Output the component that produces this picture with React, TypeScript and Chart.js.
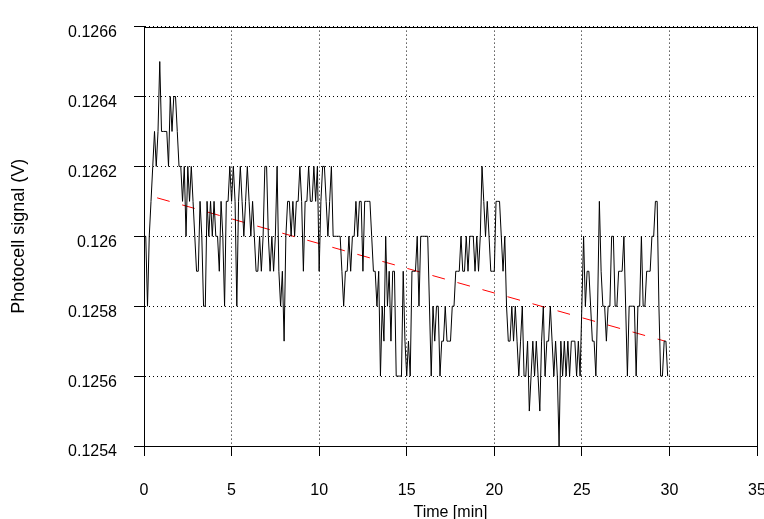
import { useEffect, useRef } from "react"
import { Chart, registerables } from "chart.js"

Chart.register(...registerables)

// readings taken every 0.1 min, values in volts
const sampleInterval = 0.1

const signal = [
  0.1260, 0.1260, 0.1258, 0.1260, 0.1261, 0.1262, 0.1263, 0.1262, 0.1263, 0.1265,
  0.1263, 0.1263, 0.1263, 0.1263, 0.1262, 0.1264, 0.1263, 0.1264, 0.1264, 0.1263,
  0.1262, 0.1262, 0.1261, 0.1262, 0.1260, 0.1262, 0.1261, 0.1262, 0.1261, 0.1260,
  0.1259, 0.1259, 0.1261, 0.1260, 0.1258, 0.1258, 0.1261, 0.1260, 0.1261, 0.1260,
  0.1261, 0.1260, 0.1260, 0.1259, 0.1261, 0.1260, 0.1258, 0.1261, 0.1261, 0.1262,
  0.1261, 0.1262, 0.1261, 0.1258, 0.1261, 0.1262, 0.1261, 0.1260, 0.1261, 0.1262,
  0.1261, 0.1260, 0.1261, 0.1260, 0.1259, 0.1259, 0.1260, 0.1259, 0.1260, 0.1262,
  0.1262, 0.1260, 0.1259, 0.1260, 0.1259, 0.1260, 0.1262, 0.1259, 0.1258, 0.1259,
  0.1257, 0.1260, 0.1261, 0.1261, 0.1260, 0.1261, 0.1260, 0.1261, 0.1261, 0.1262,
  0.1261, 0.1259, 0.1261, 0.1261, 0.1262, 0.1261, 0.1261, 0.1262, 0.1261, 0.1262,
  0.1259, 0.1261, 0.1262, 0.1262, 0.1261, 0.1260, 0.1261, 0.1262, 0.1260, 0.1260,
  0.1260, 0.1260, 0.1260, 0.1259, 0.1258, 0.1259, 0.1259, 0.1260, 0.1259, 0.1260,
  0.1260, 0.1261, 0.1260, 0.1261, 0.1261, 0.1259, 0.1261, 0.1261, 0.1261, 0.1261,
  0.1260, 0.1259, 0.1259, 0.1258, 0.1259, 0.1256, 0.1258, 0.1257, 0.1260, 0.1258,
  0.1259, 0.1257, 0.1259, 0.1259, 0.1256, 0.1256, 0.1256, 0.1256, 0.1259, 0.1257,
  0.1256, 0.1257, 0.1256, 0.1259, 0.1259, 0.1259, 0.1260, 0.1258, 0.1260, 0.1260,
  0.1260, 0.1260, 0.1260, 0.1258, 0.1256, 0.1258, 0.1257, 0.1258, 0.1258, 0.1256,
  0.1257, 0.1257, 0.1258, 0.1257, 0.1257, 0.1257, 0.1258, 0.1258, 0.1259, 0.1259,
  0.1259, 0.1260, 0.1259, 0.1259, 0.1260, 0.1259, 0.1260, 0.1260, 0.1260, 0.1259,
  0.1260, 0.1259, 0.1260, 0.1262, 0.1261, 0.1260, 0.1261, 0.1260, 0.1259, 0.1259,
  0.1259, 0.1261, 0.1261, 0.1261, 0.1260, 0.1259, 0.1260, 0.1258, 0.1257, 0.1257,
  0.1258, 0.1257, 0.1258, 0.1257, 0.1256, 0.1257, 0.1258, 0.1256, 0.1256, 0.1257,
  0.1255, 0.1256, 0.1257, 0.1256, 0.1257, 0.1256, 0.1255, 0.1257, 0.1258, 0.1256,
  0.1257, 0.1257, 0.1258, 0.1257, 0.1256, 0.1257, 0.1256, 0.1254, 0.1257, 0.1256,
  0.1257, 0.1256, 0.1257, 0.1256, 0.1257, 0.1257, 0.1257, 0.1256, 0.1257, 0.1256,
  0.1258, 0.1260, 0.1258, 0.1259, 0.1259, 0.1258, 0.1257, 0.1257, 0.1256, 0.1258,
  0.1261, 0.1259, 0.1258, 0.1258, 0.1257, 0.1258, 0.1258, 0.1260, 0.1260, 0.1258,
  0.1258, 0.1259, 0.1259, 0.1259, 0.1260, 0.1258, 0.1256, 0.1258, 0.1258, 0.1258,
  0.1258, 0.1256, 0.1258, 0.1258, 0.1260, 0.1258, 0.1258, 0.1259, 0.1259, 0.1259,
  0.1260, 0.1260, 0.1261, 0.1261, 0.1258, 0.1256, 0.1256, 0.1257, 0.1257, 0.1256,
]

// linear fit, drawn dashed red
const trendTime = [0.75, 29.75]
const trendSignal = [0.12611, 0.1257]

const xTicks = [0, 5, 10, 15, 20, 25, 30, 35]
const yTicks = [0.1254, 0.1256, 0.1258, 0.126, 0.1262, 0.1264, 0.1266]

const framePlugin = {
  id: "frame",
  afterDraw(chart: Chart) {
    const { ctx, chartArea } = chart
    ctx.save()
    ctx.strokeStyle = "#000"
    ctx.lineWidth = 1
    ctx.strokeRect(
      Math.round(chartArea.left) + 0.5,
      Math.round(chartArea.top) + 0.5,
      Math.round(chartArea.right - chartArea.left),
      Math.round(chartArea.bottom - chartArea.top)
    )
    ctx.restore()
  },
}

export default function App() {
  const canvasRef = useRef<HTMLCanvasElement>(null)

  useEffect(() => {
    if (!canvasRef.current) return
    Chart.defaults.font.family = "'Liberation Sans', Arial, sans-serif"

    const chart = new Chart(canvasRef.current, {
      type: "line",
      data: {
        datasets: [
          {
            label: "Signal",
            data: signal.map((v, i) => ({ x: i * sampleInterval, y: v })),
            borderColor: "#000",
            borderWidth: 1,
            pointRadius: 0,
            tension: 0,
          },
          {
            label: "Trend",
            data: trendTime.map((t, i) => ({ x: t, y: trendSignal[i] })),
            borderColor: "#ff0000",
            borderWidth: 1,
            borderDash: [13, 13],
            pointRadius: 0,
          },
        ],
      },
      options: {
        responsive: false,
        animation: false,
        layout: { padding: { top: 12, right: 7, left: 0, bottom: 0 } },
        plugins: {
          legend: { display: false },
          tooltip: { enabled: false },
        },
        scales: {
          x: {
            type: "linear",
            min: 0,
            max: 35,
            afterBuildTicks: (scale: any) => {
              scale.ticks = xTicks.map((v) => ({ value: v }))
            },
            afterFit: (scale: any) => {
              scale.height = 73
              scale.paddingLeft = 0
              scale.paddingRight = 0
            },
            ticks: {
              color: "#000",
              font: { size: 16 },
              padding: 25,
              maxRotation: 0,
              autoSkip: false,
            },
            grid: {
              color: "#000",
              tickColor: "#000",
              tickLength: 10,
              tickBorderDash: [],
              lineWidth: 1,
            },
            border: { display: true, color: "#000", dash: [1, 3] },
            title: {
              display: true,
              text: "Time [min]",
              color: "#000",
              font: { size: 16 },
              padding: { top: 0, bottom: -3 },
            },
          },
          y: {
            type: "linear",
            min: 0.1254,
            max: 0.1266,
            afterBuildTicks: (scale: any) => {
              scale.ticks = yTicks.map((v) => ({ value: v }))
            },
            afterFit: (scale: any) => {
              scale.width = 144
            },
            ticks: {
              color: "#000",
              font: { size: 16 },
              padding: 17,
              labelOffset: 6,
              autoSkip: false,
              callback: (value: any) => String(Number(Number(value).toFixed(4))),
            },
            grid: {
              color: "#000",
              tickColor: "#000",
              tickLength: 10,
              tickBorderDash: [],
              lineWidth: 1,
            },
            border: { display: true, color: "#000", dash: [1, 3] },
            title: {
              display: true,
              text: "Photocell signal (V)",
              color: "#000",
              font: { size: 18 },
              padding: { top: 8, bottom: 0 },
            },
          },
        },
      },
      plugins: [framePlugin],
    })

    return () => chart.destroy()
  }, [])

  return (
    <div style={{ position: "fixed", left: 0, top: 0, width: 764, height: 519, background: "#fff" }}>
      <canvas ref={canvasRef} width={764} height={519} />
    </div>
  )
}
